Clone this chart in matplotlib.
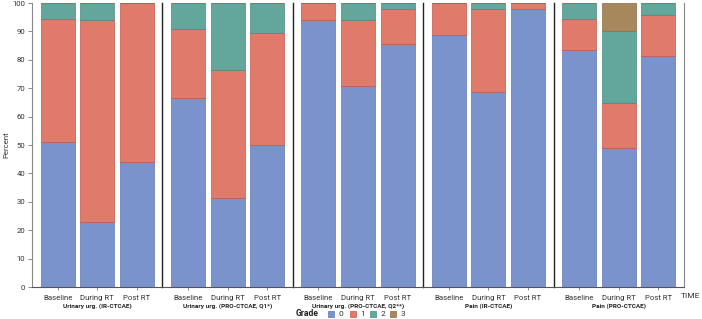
import matplotlib
matplotlib.use("Agg")
import matplotlib.pyplot as plt
from matplotlib.patches import Rectangle
import numpy as np

plt.rcParams['font.family'] = ['Roboto', 'DejaVu Sans']

times = ["Baseline", "During RT", "Post RT"]
panels = ["Urinary urg. (IR-CTCAE)", "Urinary urg. (PRO-CTCAE, Q1*)",
          "Urinary urg. (PRO-CTCAE, Q2**)", "Pain (IR-CTCAE)", "Pain (PRO-CTCAE)"]
grades = ["0", "1", "2", "3"]

# percent per grade, per panel, per time (Baseline, During RT, Post RT)
grade0 = [[51.0, 23.0, 44.0], [66.7, 31.4, 50.0], [94.1, 70.6, 85.5],
          [88.9, 68.7, 97.8], [83.3, 49.0, 81.3]]
grade1 = [[43.5, 71.0, 56.0], [24.0, 45.1, 39.5], [5.9, 23.5, 12.3],
          [11.1, 29.3, 2.2], [11.1, 15.7, 14.4]]
grade2 = [[5.5, 6.0, 0.0], [9.3, 23.5, 10.5], [0.0, 5.9, 2.2],
          [0.0, 2.0, 0.0], [5.6, 25.5, 4.3]]
grade3 = [[0.0, 0.0, 0.0], [0.0, 0.0, 0.0], [0.0, 0.0, 0.0],
          [0.0, 0.0, 0.0], [0.0, 9.8, 0.0]]

colors = ["#7b93cc", "#e07b6b", "#63a69b", "#a7875c"]
edges = ["#5f76b0", "#c4574a", "#4a8a80", "#8a6d45"]

W, H = 702, 319
fig = plt.figure(figsize=(W / 100, H / 100), dpi=100)
left_px, right_px, top_px, bot_px = 32, 684, 3, 287
pw = (right_px - left_px) / 5
axes = []
for i in range(5):
    x0 = (left_px + i * pw) / W
    ax = fig.add_axes([x0, 1 - bot_px / H, pw / W, (bot_px - top_px) / H])
    axes.append(ax)

data = [grade0, grade1, grade2, grade3]
x = np.arange(3)
for i, ax in enumerate(axes):
    bottom = np.zeros(3)
    for g in range(4):
        vals = np.array(data[g][i])
        ax.bar(x, vals, bottom=bottom, width=0.86, color=colors[g],
               edgecolor=edges[g], linewidth=0.5)
        bottom += vals
    ax.set_xlim(-0.65, 2.65)
    ax.set_ylim(0, 100)
    ax.set_xticks(x)
    ax.set_xticklabels(times, fontsize=5.6, color="#333333")
    ax.tick_params(axis='x', length=2.5, width=0.6, color="#777777", pad=3)
    ax.spines["top"].set_visible(False)
    ax.spines["right"].set_visible(False)
    ax.spines["bottom"].set_color("#555555")
    ax.spines["bottom"].set_linewidth(0.8)
    if i == 0:
        ax.spines["left"].set_color("#888888")
        ax.spines["left"].set_linewidth(0.8)
        ax.set_yticks(np.arange(0, 101, 10))
        ax.tick_params(axis='y', labelsize=5.6, length=3, width=0.6,
                       color="#777777", labelcolor="#333333", pad=2)
    else:
        ax.spines["left"].set_color("#222222")
        ax.spines["left"].set_linewidth(1.0)
        ax.tick_params(axis='y', left=False, labelleft=False)
    if i == 4:
        ax.spines["right"].set_visible(True)
        ax.spines["right"].set_color("#888888")
        ax.spines["right"].set_linewidth(0.8)
    cx = (left_px + (i + 0.5) * pw) / W
    fig.text(cx, 1 - 306 / H, panels[i], fontsize=4.6, fontweight="bold",
             ha="center", va="center", color="#222222")

fig.text(6 / W, 1 - 145 / H, "Percent", fontsize=5.6, rotation=90,
         ha="center", va="center", color="#333333")
fig.text(690 / W, 1 - 296 / H, "TIME", fontsize=6, ha="center",
         va="center", color="#333333")

# legend
ly = 1 - 314 / H
fig.text(307 / W, ly, "Grade", fontsize=6.2, fontweight="bold",
         ha="center", va="center", color="#222222")
sq_x = [331, 353, 373, 393]
for g in range(4):
    fig.patches.append(Rectangle(((sq_x[g] - 3) / W, ly - 3 / H), 6 / W, 6 / H,
                                 transform=fig.transFigure,
                                 facecolor=colors[g], edgecolor=edges[g],
                                 linewidth=0.5))
    fig.text((sq_x[g] + 10) / W, ly, grades[g], fontsize=6,
             ha="center", va="center", color="#333333")

fig.savefig("out.png", dpi=100)
